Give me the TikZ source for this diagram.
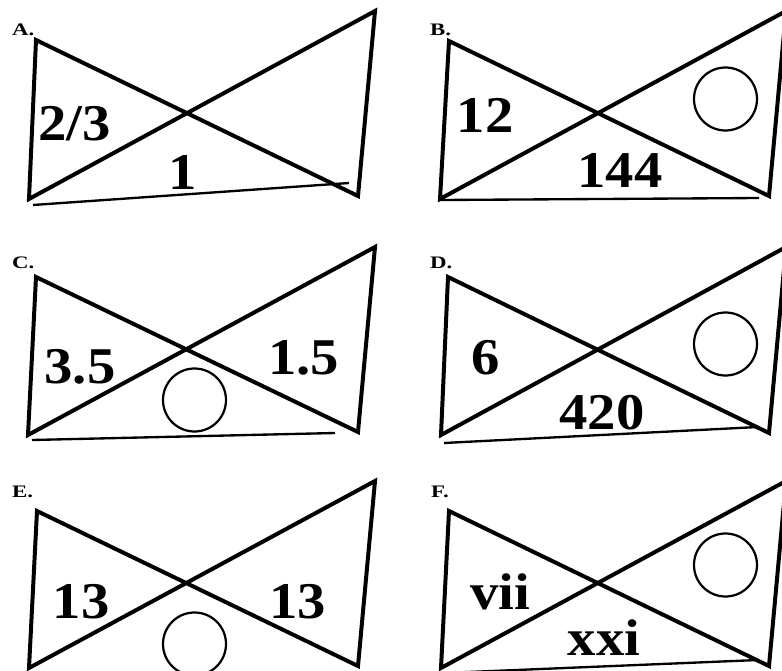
\documentclass[tikz,border=0pt]{standalone}
\usepackage{fontspec}
\setmainfont{Liberation Serif}
\newfontfamily\numfont{Liberation Serif}[FakeStretch=1.1]
\newfontfamily\tagfont{Liberation Serif}[FakeStretch=1.3]
\usepackage{xcolor}
\definecolor{inkblack}{RGB}{0,0,0}

\tikzset{
  bowtie/.style={draw=inkblack, line width=3.4pt, line join=miter},
  groundline/.style={draw=inkblack, line width=2pt},
  blank/.style={draw=inkblack, line width=1.9pt, circle, inner sep=0pt, minimum size=1.89cm},
  num/.style={font=\numfont\bfseries\fontsize{44}{44}\selectfont, anchor=base, inner sep=0pt},
  tag/.style={font=\tagfont\bfseries\fontsize{15}{15}\selectfont, anchor=base west, inner sep=0pt}
}

\begin{document}
\begin{tikzpicture}[x=0.03cm, y=-0.03cm]
            \useasboundingbox (0,0) rectangle (782,670);
            \clip (0,0) rectangle (782,670);

            % Panel A
            \node[tag] (a-tag) at (12,35) {A.};
            \coordinate (a-tl) at (36,40);
            \coordinate (a-bl) at (29,199);
            \coordinate (a-tr) at (375,11);
            \coordinate (a-br) at (358,196);
            \draw[bowtie] (a-tl) -- (a-bl) -- (a-tr) -- (a-br) -- cycle;
            \coordinate (a-g1) at (33,205);
            \coordinate (a-g2) at (349,183);
            \draw[groundline] (a-g1) -- (a-g2);
            \node[num] (a-left) at (74.5,140) {2/3};
            \node[num] (a-bottom) at (183,189) {1};

            % Panel B
            \node[tag] (b-tag) at (430,35) {B.};
            \coordinate (b-tl) at (449,41);
            \coordinate (b-bl) at (440,199);
            \coordinate (b-tr) at (786,11);
            \coordinate (b-br) at (769,196);
            \draw[bowtie] (b-tl) -- (b-bl) -- (b-tr) -- (b-br) -- cycle;
            \coordinate (b-g1) at (441,200);
            \coordinate (b-g2) at (759,198);
            \draw[groundline] (b-g1) -- (b-g2);
            \node[blank] (b-ring) at (725.5,99) {};
            \node[num] (b-left) at (485,132) {12};
            \node[num] (b-bottom) at (620,187) {144};

            % Panel C
            \node[tag] (c-tag) at (12,268) {C.};
            \coordinate (c-tl) at (36,277);
            \coordinate (c-bl) at (28,435);
            \coordinate (c-tr) at (375,247);
            \coordinate (c-br) at (358,432);
            \draw[bowtie] (c-tl) -- (c-bl) -- (c-tr) -- (c-br) -- cycle;
            \coordinate (c-g1) at (32,440);
            \coordinate (c-g2) at (335,433);
            \draw[groundline] (c-g1) -- (c-g2);
            \node[blank] (c-ring) at (194.5,400) {};
            \node[num] (c-left) at (80,383) {3.5};
            \node[num] (c-right) at (303.5,374) {1.5};

            % Panel D
            \node[tag] (d-tag) at (430,268) {D.};
            \coordinate (d-tl) at (448,277);
            \coordinate (d-bl) at (441,435);
            \coordinate (d-tr) at (786,247);
            \coordinate (d-br) at (769,433);
            \draw[bowtie] (d-tl) -- (d-bl) -- (d-tr) -- (d-br) -- cycle;
            \coordinate (d-g1) at (444,443);
            \coordinate (d-g2) at (758,427);
            \draw[groundline] (d-g1) -- (d-g2);
            \node[blank] (d-ring) at (725.5,344) {};
            \node[num] (d-left) at (486,374) {6};
            \node[num] (d-bottom) at (602,429) {420};

            % Panel E
            \node[tag] (e-tag) at (12,497) {E.};
            \coordinate (e-tl) at (37,511);
            \coordinate (e-bl) at (29,668);
            \coordinate (e-tr) at (375,481);
            \coordinate (e-br) at (358,666);
            \draw[bowtie] (e-tl) -- (e-bl) -- (e-tr) -- (e-br) -- cycle;
            \node[blank] (e-ring) at (194.5,644) {};
            \node[num] (e-left) at (81,618) {13};
            \node[num] (e-right) at (297.5,618) {13};

            % Panel F
            \node[tag] (f-tag) at (431,497) {F.};
            \coordinate (f-tl) at (449,511);
            \coordinate (f-bl) at (441,668);
            \coordinate (f-tr) at (786,481);
            \coordinate (f-br) at (769,666);
            \draw[bowtie] (f-tl) -- (f-bl) -- (f-tr) -- (f-br) -- cycle;
            \coordinate (f-g1) at (444,673);
            \coordinate (f-g2) at (758,660);
            \draw[groundline] (f-g1) -- (f-g2);
            \node[blank] (f-ring) at (725.5,565) {};
            \node[num] (f-left) at (500,609) {vii};
            \node[num] (f-bottom) at (604,655) {xxi};
        \end{tikzpicture}
\end{document}
